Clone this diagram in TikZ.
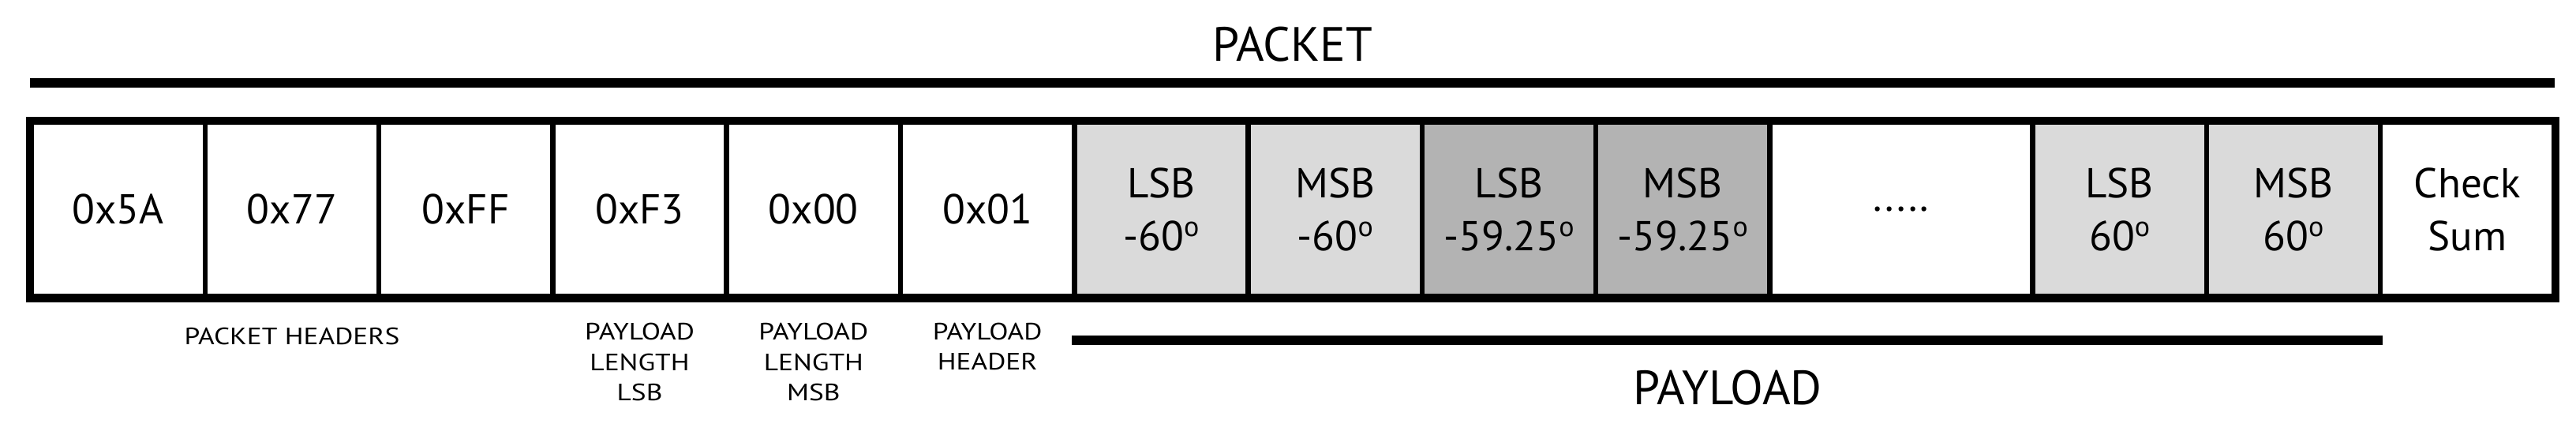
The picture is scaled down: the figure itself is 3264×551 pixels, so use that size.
\documentclass[tikz,border=0pt]{standalone}
\usepackage{fontspec}
\setmainfont{PT Sans}
\newfontfamily\lblfont[FakeStretch=1.18]{PT Sans}
\definecolor{lgray}{HTML}{DADADA}
\definecolor{dgray}{HTML}{B3B3B3}
\newcommand\dg{\raisebox{18pt}{\fontsize{36}{36}\selectfont o}}
\begin{document}
\begin{tikzpicture}[x=1pt,y=-1pt,
  cell/.style={draw=black,line width=6.5pt,rectangle,minimum width=220.3pt,minimum height=220.5pt,
    inner sep=0pt,align=center,font=\fontsize{53}{67}\selectfont,text=black},
  wcell/.style={cell,minimum width=333pt},
  lg/.style={fill=lgray},
  dg/.style={fill=dgray},
  bar/.style={line width=12pt,black},
  small/.style={font=\lblfont\fontsize{30}{38.5}\selectfont,align=center,inner sep=0pt},
  big/.style={font=\fontsize{61}{70}\selectfont,inner sep=0pt}]
\useasboundingbox (0,0) rectangle (3264,551);
\fill[white] (0,0) rectangle (3264,551);
% cells
\node[cell]    (c1)  at (149.65,265.25) {0x5A};
\node[cell]    (c2)  at (369.95,265.25) {0x77};
\node[cell]    (c3)  at (590.25,265.25) {0xFF};
\node[cell]    (c4)  at (810.55,265.25) {0xF3};
\node[cell]    (c5)  at (1030.85,265.25) {0x00};
\node[cell]    (c6)  at (1251.15,265.25) {0x01};
\node[cell,lg] (c7)  at (1471.45,265.25) {LSB\\-60\dg};
\node[cell,lg] (c8)  at (1691.75,265.25) {MSB\\-60\dg};
\node[cell,dg] (c9)  at (1912.05,265.25) {LSB\\-59.25\dg};
\node[cell,dg] (c10) at (2132.35,265.25) {MSB\\-59.25\dg};
\node[wcell]   (c11) at (2409.0,265.25) {.....};
\node[cell,lg] (c12) at (2685.65,265.25) {LSB\\60\dg};
\node[cell,lg] (c13) at (2905.95,265.25) {MSB\\60\dg};
\node[cell]    (c14) at (3126.25,265.25) {Check\\Sum};
% outer frame
\draw[line width=7.5pt] (c1.north west) rectangle (c14.south east);
% bars
\coordinate (pk1) at (38,104.5);
\coordinate (pk2) at (3237,104.5);
\draw[bar] (pk1) -- (pk2);
\coordinate (pl1) at (c7.west |- 0,431);
\coordinate (pl2) at (c13.east |- 0,431);
\draw[bar] (pl1) -- (pl2);
% titles
\node[big] (packet) at (1638,56) {PACKET};
\node[big] (payload) at (2189,491) {PAYLOAD};
% small labels
\node[small] (lph) at (c2 |- 0,425.5) {PACKET HEADERS};
\node[small] (lpl) at (c4 |- 0,458.5) {PAYLOAD\\LENGTH\\LSB};
\node[small] (lpm) at (c5 |- 0,458.5) {PAYLOAD\\LENGTH\\MSB};
\node[small] (lhd) at (c6 |- 0,439) {PAYLOAD\\HEADER};
\end{tikzpicture}
\end{document}
